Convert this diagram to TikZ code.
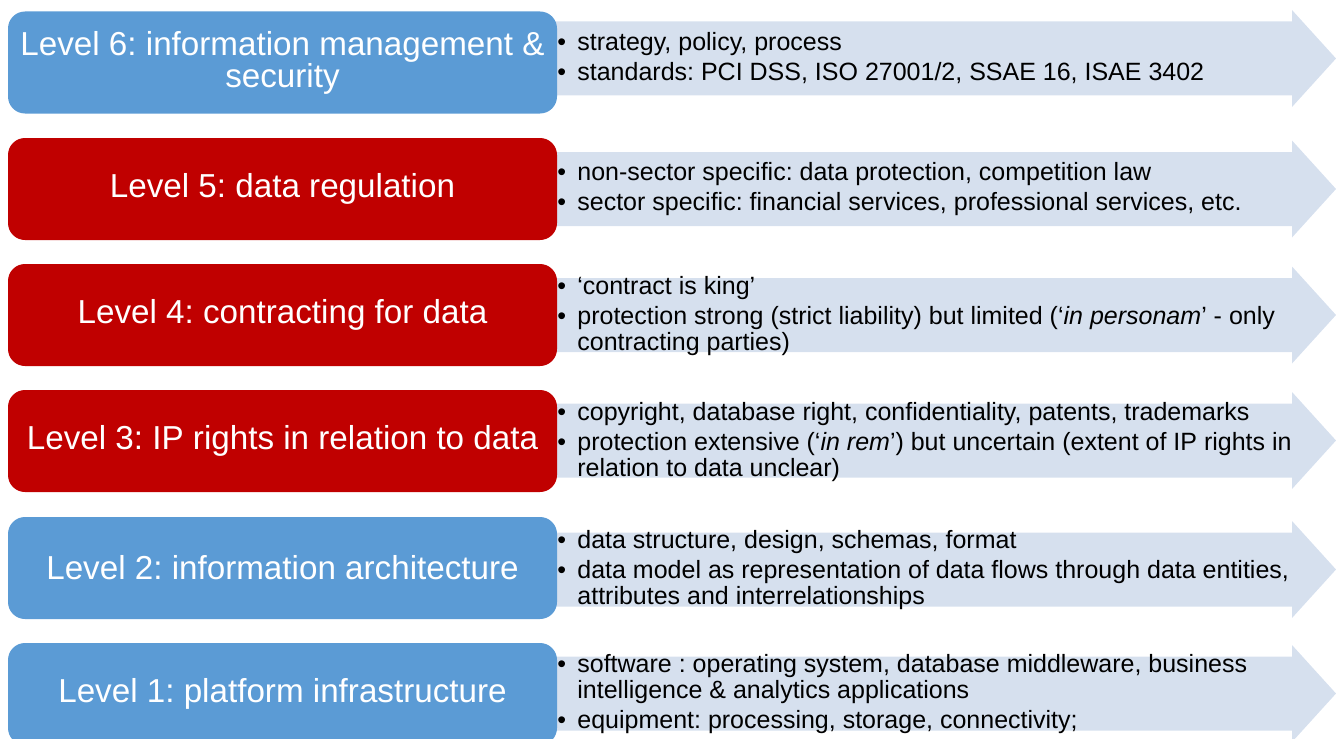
\documentclass[tikz,border=0pt]{standalone}
\usepackage{fontspec}
\setmainfont{Liberation Sans}
\definecolor{boxblue}{HTML}{5B9BD5}
\definecolor{boxred}{HTML}{C00000}
\definecolor{bandfill}{HTML}{D6E0EE}
\newcommand{\bl}{\makebox[10pt][l]{•}}
\newcommand{\ind}{\hspace*{10pt}}
\begin{document}
\frenchspacing
\begin{tikzpicture}[x=0.5pt,y=-0.5pt,
  levelbox/.style={rounded corners=8.5pt, minimum width=274.5pt, minimum height=51pt,
    inner sep=0pt, text=white, align=center, font=\fontsize{16.6pt}{16pt}\selectfont},
  lvblue/.style={levelbox, fill=boxblue},
  lvred/.style={levelbox, fill=boxred},
  desc/.style={anchor=west, inner sep=0pt, align=left, text=black,
    font=\fontsize{12.5pt}{13pt}\selectfont},
  band/.style={fill=bandfill}]
\useasboundingbox (0,0) rectangle (1336,738);
\clip (0,0) rectangle (1336,738);
% arrow bands
\foreach \m in {58.5,189,315,440.5,569.5,693.5}{
  \fill[band] (550,\m-37) -- (1292,\m-37) -- (1292,\m-48.5) -- (1336,\m)
    -- (1292,\m+48.5) -- (1292,\m+37) -- (550,\m+37) -- cycle;
}
% level boxes
\node[lvblue] (L6) at (282.5,62.5) {Level 6: information management \&\\security};
\node[lvred]  (L5) at (282.5,189) {Level 5: data regulation};
\node[lvred]  (L4) at (282.5,315) {Level 4: contracting for data};
\node[lvred]  (L3) at (282.5,441) {Level 3: IP rights in relation to data};
\node[lvblue] (L2) at (282.5,568) {Level 2: information architecture};
\node[lvblue] (L1) at (282.5,694) {Level 1: platform infrastructure};
% descriptions
\node[desc] (D6) at (557,58.5) {\bl strategy, policy, process\\[2pt]
  \bl standards: PCI DSS, ISO 27001/2, SSAE 16, ISAE 3402};
\node[desc] (D5) at (557,189) {\bl non-sector specific: data protection, competition law\\[2pt]
  \bl sector specific: financial services, professional services, etc.};
\node[desc] (D4) at (557,316) {\bl ‘contract is king’\\[2pt]
  \bl protection strong (strict liability) but limited (‘\textit{in personam}’ - only\\
  \ind contracting parties)};
\node[desc] (D3) at (557,442) {\bl copyright, database right, confidentiality, patents, trademarks\\[2pt]
  \bl protection extensive (‘\textit{in rem}’) but uncertain (extent of IP rights in\\
  \ind relation to data unclear)};
\node[desc] (D2) at (557,570.5) {\bl data structure, design, schemas, format\\[2pt]
  \bl data model as representation of data flows through data entities,\\
  \ind attributes and interrelationships};
\node[desc] (D1) at (557,694.5) {\bl software : operating system, database middleware, business\\
  \ind intelligence \& analytics applications\\[2pt]
  \bl equipment: processing, storage, connectivity;};
\end{tikzpicture}
\end{document}
